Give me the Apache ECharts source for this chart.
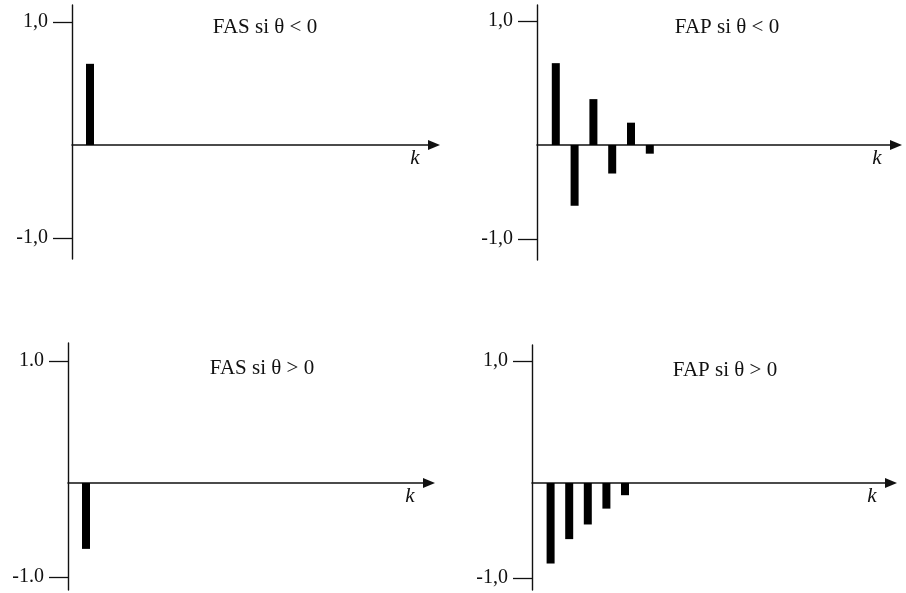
<!DOCTYPE html>
<html>
<head>
<meta charset="utf-8">
<script src="https://cdn.jsdelivr.net/npm/echarts@6/dist/echarts.min.js"></script>
<style>
  html, body { margin: 0; padding: 0; background: #fff; }
  #chart { width: 906px; height: 593px; }
</style>
</head>
<body>
<div id="chart"></div>
<script>
// lags k and autocorrelation values
const lags = [1, 2, 3, 4, 5, 6];
const fasNeg = [0.66];
const fapNeg = [0.66, -0.49, 0.37, -0.23, 0.18, -0.07];
const fasPos = [-0.54];
const fapPos = [-0.66, -0.46, -0.34, -0.21, -0.10];
const titles = ['FAS si θ < 0', 'FAP si θ < 0', 'FAS si θ > 0', 'FAP si θ > 0'];
const tickLabels = [['1,0', '-1,0'], ['1,0', '-1,0'], ['1.0', '-1.0'], ['1,0', '-1,0']];
const xName = 'k';

const seriesValues = [fasNeg, fapNeg, fasPos, fapPos];

// pixel layout of each hand-drawn panel (axis line, zero line, +1/-1 tick rows)
const panels = [
  { left: 72, top: 5, bottom: 259, zero: 145, up: 22, down: 238, end: 434, step: 18, tx: 265, ty: 27 },
  { left: 537, top: 5, bottom: 260, zero: 145, up: 21, down: 239, end: 896, step: 18.8, tx: 727, ty: 27 },
  { left: 68, top: 343, bottom: 590, zero: 483, up: 361, down: 577, end: 429, step: 18, tx: 262, ty: 368 },
  { left: 532, top: 345, bottom: 590, zero: 483, up: 361, down: 578, end: 891, step: 18.6, tx: 725, ty: 370 }
];

const serif = "'Liberation Serif', 'DejaVu Serif', serif";
const ink = '#111';

const grid = [];
const xAxis = [];
const yAxis = [];
const series = [];
const title = [];

panels.forEach((p, i) => {
  grid.push({
    left: p.left,
    top: p.top,
    width: p.end - p.left,
    height: p.bottom - p.top,
    outerBoundsMode: 'none'
  });

  xAxis.push({
    type: 'value',
    gridIndex: i,
    min: 0,
    max: (p.end - p.left) / p.step,
    name: xName,
    nameLocation: 'end',
    nameGap: -19,
    nameTextStyle: {
      fontFamily: serif,
      fontStyle: 'italic',
      fontSize: 21,
      color: ink,
      align: 'center',
      verticalAlign: 'top',
      padding: [3, 0, 0, 0]
    },
    axisLine: {
      onZero: true,
      onZeroAxisIndex: i * 2,
      symbol: ['none', 'triangle'],
      symbolSize: [10, 12],
      lineStyle: { color: ink, width: 1.5 }
    },
    axisTick: { show: false },
    axisLabel: { show: false },
    splitLine: { show: false }
  });

  // data scale: 1 unit = distance from zero line to the "1,0" tick
  const unit = p.zero - p.up;
  yAxis.push({
    type: 'value',
    gridIndex: i,
    position: 'left',
    min: -(p.bottom - p.zero) / unit,
    max: (p.zero - p.top) / unit,
    axisLine: { show: true, onZero: false, lineStyle: { color: ink, width: 1.4 } },
    axisTick: { show: false },
    axisLabel: { show: false },
    splitLine: { show: false }
  });

  // tick scale: the drawn +1 / -1 marks
  const half = (p.down - p.up) / 2;
  const mid = (p.down + p.up) / 2;
  yAxis.push({
    type: 'value',
    gridIndex: i,
    position: 'left',
    min: -(p.bottom - mid) / half,
    max: (mid - p.top) / half,
    axisLine: { show: false, onZero: false },
    axisTick: {
      show: true,
      length: 19,
      customValues: [1, -1],
      lineStyle: { color: ink, width: 1.3 }
    },
    axisLabel: {
      show: true,
      customValues: [1, -1],
      margin: 24,
      fontFamily: serif,
      fontSize: 20,
      color: ink,
      formatter: v => (v > 0 ? tickLabels[i][0] : tickLabels[i][1])
    },
    splitLine: { show: false }
  });

  series.push({
    type: 'bar',
    xAxisIndex: i,
    yAxisIndex: i * 2,
    barWidth: 8,
    itemStyle: { color: '#000' },
    data: seriesValues[i].map((v, j) => [lags[j], v])
  });

  title.push({
    text: titles[i],
    left: p.tx,
    top: p.ty,
    textAlign: 'center',
    textVerticalAlign: 'middle',
    padding: 0,
    textStyle: { fontFamily: serif, fontSize: 21, fontWeight: 'normal', color: ink }
  });
});

const chart = echarts.init(document.getElementById('chart'), null, { renderer: 'canvas' });
chart.setOption({
  backgroundColor: '#fff',
  animation: false,
  title,
  grid,
  xAxis,
  yAxis,
  series
});
</script>
</body>
</html>
